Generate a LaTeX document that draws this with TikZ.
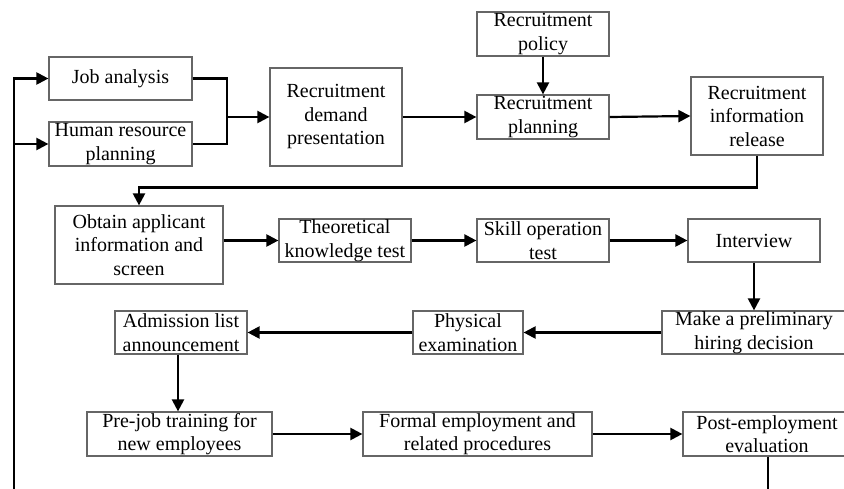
\documentclass[tikz,border=0pt]{standalone}
\usepackage{fontspec}
\setmainfont{Liberation Serif}
\usetikzlibrary{arrows.meta}
\usetikzlibrary{positioning}

\begin{document}
\begin{tikzpicture}[x=1pt, y=-1pt,
        box/.style={draw=black!60, line width=1.2pt, align=center, inner sep=0pt,
            font=\fontsize{20}{23.5}\selectfont},
        arr/.style={-{Triangle[length=12pt, width=12pt]}, line width=2.2pt},
        lin/.style={line width=2.2pt}]
    \useasboundingbox (0,0) rectangle (844,489);
    \clip (0,0) rectangle (844,489);

    % first row
    \node[box, minimum width=143, minimum height=43](ja) at (120.5, 78.5){Job analysis};
    \node[box, minimum width=143, minimum height=44](hr) at (120.5, 144){Human resource\\planning};
    \node[box, minimum width=132, minimum height=98](dem) at (336, 117){Recruitment\\demand\\presentation};
    \node[box, minimum width=132, minimum height=44](pol) at (543, 34){Recruitment\\policy};
    \node[box, minimum width=132, minimum height=44](plan) at (543, 117){Recruitment\\planning};
    \node[box, minimum width=132, minimum height=78](rel) at (757, 116){Recruitment\\information\\release};

    % second row
    \node[box, minimum width=168, minimum height=78](obt) at (139, 245){Obtain applicant\\information and\\screen};
    \node[box, minimum width=132, minimum height=43](theo) at (345, 240.5){Theoretical\\knowledge test};
    \node[box, minimum width=132, minimum height=43](skill) at (543, 240.5){Skill operation\\test};
    \node[box, minimum width=132, minimum height=43](intv) at (754, 240.5){Interview};

    % third row
    \node[box, minimum width=184, minimum height=43](hire) at (754, 332.5){Make a preliminary\\hiring decision};
    \node[box, minimum width=110, minimum height=43](phys) at (468, 332.5){Physical\\examination};
    \node[box, minimum width=132, minimum height=43](adm) at (181, 332.5){Admission list\\announcement};

    % fourth row
    \node[box, minimum width=185, minimum height=44](pre) at (179.5, 434){Pre-job training for\\new employees};
    \node[box, minimum width=229, minimum height=44](form) at (477.5, 434){Formal employment and\\related procedures};
    \node[box, minimum width=168, minimum height=44](post) at (767, 434){Post-employment\\evaluation};

    \coordinate (jn) at (227, 117);
    \coordinate (fb) at (14, 500);

    % connectors
    \draw[lin](ja.east) -| (jn) |- (hr.east);
    \draw[arr](jn) -- (dem.west);
    \draw[arr](dem.east) -- (plan.west);
    \draw[arr](pol.south) -- (plan.north);
    \draw[arr](plan.east) -- (rel.west);
    \draw[arr](rel.south) -- ++(0, 32) -| (obt.north);
    \draw[arr](theo.west -| obt.east) -- (theo.west);
    \draw[arr](theo.east) -- (skill.west);
    \draw[arr](skill.east) -- (intv.west);
    \draw[arr](intv.south) -- (intv.south |- hire.north);
    \draw[arr](hire.west) -- (phys.east);
    \draw[arr](phys.west) -- (adm.east);
    \draw[arr](adm.south -| 178, 0) -- (178, 0 |- pre.north);
    \draw[arr](pre.east) -- (form.west);
    \draw[arr](form.east) -- (post.west);

    % feedback loop
    \draw[arr](post.south -| 768, 0) |- (fb) |- (ja.west);
    \draw[arr](fb |- hr.west) -- (hr.west);
\end{tikzpicture}
\end{document}
